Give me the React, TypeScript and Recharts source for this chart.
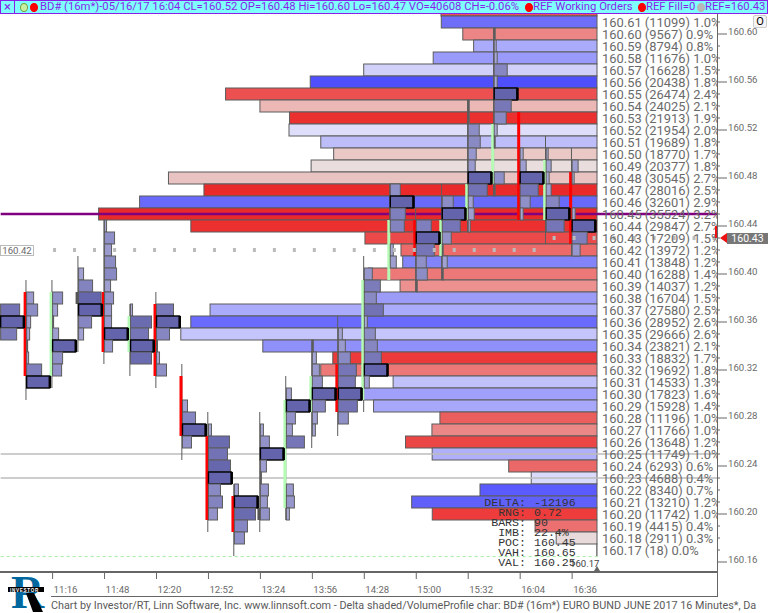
import React from "react"
import { ComposedChart, Bar, Scatter, XAxis, YAxis } from "recharts"

const FONT = "Roboto, 'Liberation Sans', Arial, sans-serif"
const MONO = "'Liberation Mono', monospace"
const TEXT_GRAY = "#6a6a6a"

// volume profile rows, top to bottom
const rowPrices = [
  160.62, 160.61, 160.6, 160.59, 160.58, 160.57, 160.56, 160.55, 160.54, 160.53, 160.52, 160.51, 160.5, 160.49, 160.48, 160.47,
  160.46, 160.45, 160.44, 160.43, 160.42, 160.41, 160.4, 160.39, 160.38, 160.37, 160.36, 160.35, 160.34, 160.33, 160.32, 160.31,
  160.3, 160.29, 160.28, 160.27, 160.26, 160.25, 160.24, 160.23, 160.22, 160.21, 160.2, 160.19, 160.18, 160.17,
]
const rowVolumes = [
  11120, 11099, 9567, 8794, 11676, 16628, 20438, 26474, 24025, 21913, 21954, 19689, 18770, 20377, 30545, 28016,
  32601, 35524, 28950, 16540, 13972, 13848, 16288, 14037, 16704, 27580, 28952, 29666, 23821, 18832, 19692, 14533,
  17823, 15928, 11196, 11766, 13648, 11749, 6293, 4688, 8340, 13210, 11742, 4415, 2911, 18,
]
const rowColors = [
  "#ee5555", "#6e6ef8", "#ec8585", "#ababfb", "#9a9afb", "#d0d0f9", "#4f4ffd", "#ec5050", "#ebb8b5", "#eb3030", "#dedefa", "#bdbdf9", "#e9c8c5", "#e9dddd", "#e9c2c2", "#ea2a2a",
  "#6a6afa", "#e82a2a", "#ec3030", "#ec4a4a", "#ec6a6a", "#8484fa", "#ec7878", "#ec9090", "#9c9cf8", "#ababfb", "#6a6afd", "#c5c5fb", "#9090fa", "#ec3a3a", "#ec7878", "#c0c0fa",
  "#a0a0fa", "#a8a8fa", "#ea5e5e", "#ea8888", "#ea4646", "#b0b0fa", "#ea6868", "#dadafa", "#5a5afd", "#6060fa", "#ee3c3c", "#ec7070", "#e8dada", "#ffffff",
]
const rowLabels = [
  "", "160.61 (11099) 1.0%", "160.60 (9567) 0.9%", "160.59 (8794) 0.8%", "160.58 (11676) 1.0%", "160.57 (16628) 1.5%", "160.56 (20438) 1.8%",
  "160.55 (26474) 2.4%", "160.54 (24025) 2.1%", "160.53 (21913) 1.9%", "160.52 (21954) 2.0%", "160.51 (19689) 1.8%", "160.50 (18770) 1.7%",
  "160.49 (20377) 1.8%", "160.48 (30545) 2.7%", "160.47 (28016) 2.5%", "160.46 (32601) 2.9%", "160.45 (35524) 3.2%", "160.44 (29847) 2.7%",
  "160.43 (17209) 1.5%", "160.42 (13972) 1.2%", "160.41 (13848) 1.2%", "160.40 (16288) 1.4%", "160.39 (14037) 1.2%", "160.38 (16704) 1.5%",
  "160.37 (27580) 2.5%", "160.36 (28952) 2.6%", "160.35 (29666) 2.6%", "160.34 (23821) 2.1%", "160.33 (18832) 1.7%", "160.32 (19692) 1.8%",
  "160.31 (14533) 1.3%", "160.30 (17823) 1.6%", "160.29 (15928) 1.4%", "160.28 (11196) 1.0%", "160.27 (11766) 1.0%", "160.26 (13648) 1.2%",
  "160.25 (11749) 1.0%", "160.24 (6293) 0.6%", "160.23 (4688) 0.4%", "160.22 (8340) 0.7%", "160.21 (13210) 1.2%", "160.20 (11742) 1.0%",
  "160.19 (4415) 0.4%", "160.18 (2911) 0.3%", "160.17 (18) 0.0%",
]

// 16 minute bars, time in minutes after midnight
const barTimes = [644, 660, 676, 692, 708, 724, 740, 756, 772, 788, 804, 820, 836, 852, 868, 884, 900, 916, 932, 948, 964, 980, 996]
const barHighs = [160.375, 160.395, 160.395, 160.415, 160.445, 160.375, 160.385, 160.325, 160.285, 160.225, 160.285, 160.315, 160.345, 160.365, 160.415, 160.475, 160.455, 160.475, 160.545, 160.605, 160.505, 160.515, 160.505]
const barLows = [160.345, 160.295, 160.305, 160.335, 160.325, 160.315, 160.305, 160.245, 160.185, 160.165, 160.185, 160.195, 160.255, 160.265, 160.285, 160.395, 160.385, 160.395, 160.435, 160.465, 160.445, 160.425, 160.415]
const bodyTops = [0, 160.385, 160.385, 160.385, 160.385, 160.365, 160.375, 160.315, 160.265, 160.215, 160.205, 160.295, 160.315, 160.325, 160.395, 160.445, 160.445, 160.445, 160.475, 160.525, 160.535, 160.495, 160.485]
const bodyBottoms = [0, 160.315, 160.315, 160.375, 160.335, 160.335, 160.315, 160.265, 160.195, 160.185, 160.195, 160.205, 160.285, 160.285, 160.295, 160.395, 160.415, 160.415, 160.445, 160.475, 160.445, 160.445, 160.425]
const bodyColors = ["", "#ff0000", "#b4fbb4", "#555555", "#ff0000", "#b4fbb4", "#ff0000", "#ff0000", "#ff0000", "#ff0000", "#555555", "#b4fbb4", "#b4fbb4", "#ff0000", "#b4fbb4", "#b4fbb4", "#ff0000", "#b4fbb4", "#b4fbb4", "#b4fbb4", "#ff0000", "#b4fbb4", "#ff0000"]

// per-bar volume at price, first entry sits at the bar's top price
const barTopPrices = [160.37, 160.38, 160.38, 160.4, 160.44, 160.37, 160.37, 160.29, 160.27, 160.22, 160.27, 160.3, 160.34, 160.35, 160.4, 160.47, 160.44, 160.46, 160.54, 160.6, 160.5, 160.5, 160.49]
const barVolumes = [
  [1900, 2300, 1600],
  [700, 1100, 400, 300, 100, 200, 1500, 2300],
  [1000, 500, 100, 600, 2300, 1000, 900],
  [500, 1400, 2250, 2300, 1300, 500],
  [200, 1000, 700, 1100, 1200, 600, 900, 700, 700, 2300, 800],
  [200, 2100, 1800, 2300, 2100],
  [1700, 2300, 1300, 100, 300, 1000],
  [500, 1300, 2300, 900],
  [300, 2100, 1900, 2200, 2300, 1200, 1400, 900],
  [400, 2300, 2100, 1300, 1000],
  [300, 900, 2300, 600, 100, 800, 700, 900],
  [500, 2300, 900, 600, 1800, 0, 0, 0, 700, 800, 300],
  [100, 400, 700, 1000, 2300, 1300, 500, 300],
  [400, 700, 1200, 1800, 1700, 2300, 1900, 1000],
  [800, 1600, 1200, 1900, 300, 1100, 1300, 1700, 2300, 500],
  [1000, 2300, 1500, 1400, 0, 300, 600],
  [1500, 2300, 1800, 1000, 1100, 100],
  [1100, 2300, 1800, 900, 100, 500, 100],
  [100, 100, 1100, 1200, 800, 700, 2300, 1900, 500, 600, 200],
  [100, 200, 300, 1300, 300, 2300, 1700, 1200, 300, 100, 0, 0, 1000, 100],
  [300, 600, 2300, 1800, 1000, 300],
  [200, 500, 300, 500, 1300, 2300, 1800],
  [600, 200, 0, 0, 300, 2300, 1500, 800],
]

// REF order markers
const refDotTimes = [677.2, 689.5, 701.8, 714.2, 726.5, 738.8, 751.1, 763.4, 775.7, 788.0, 800.3, 812.6, 824.9, 837.2, 849.5, 861.8, 874.2, 886.5, 898.8, 911.1, 923.4, 935.7, 948.0, 960.3, 972.6]
const refDotTimes2 = [984.9, 997.2, 1009.5, 1021.8, 1034.2, 1046.5, 1058.8, 1071.1, 1083.4]

const axisTimes = [676, 708, 740, 772, 804, 836, 868, 900, 932, 964, 996]
const majorPrices = [160.6, 160.56, 160.52, 160.48, 160.44, 160.4, 160.36, 160.32, 160.28, 160.24, 160.2, 160.16]
const statNames = ["DELTA:", "RNG:", "BARS:", "IMB:", "POC:", "VAH:", "VAL:"]
const statValues = ["-12196", "0.72", "90", "22.4%", "160.45", "160.65", "160.25"]

// the plot runs on under the price labels, the profile hangs from 16:52
const TIME_DOMAIN = [644, 1085.23]
const PROFILE_RIGHT = 1011.38
const VOLUME_DOMAIN = [-8553, 42552]
const PRICE_DOMAIN = [160.1525, 160.62]
const PX_PER_LOT = 0.01

const profileRows = rowPrices.map((price, i) => ({ price, volume: rowVolumes[i], color: rowColors[i] }))
const cellRows = barTimes.flatMap((time, b) =>
  barVolumes[b]
    .map((volume, i) => ({ time, price: barTopPrices[b] - i * 0.01, volume, poc: volume === Math.max(...barVolumes[b]) }))
    .filter((c) => c.volume > 0),
)

function cellColor(volume: number) {
  const k = Math.min(volume / 2300, 1)
  const mix = (a: number, b: number) => Math.round(a + (b - a) * k)
  return `rgb(${mix(178, 100)},${mix(178, 100)},${mix(222, 172)})`
}

const ProfileBar = (props: any) => {
  const { x, y, width, height, payload } = props
  const left = Math.min(x, x + width)
  return <rect x={left} y={y + height / 2 - 6} width={Math.abs(width)} height={12} fill={payload.color} stroke="#5c5c5c" strokeWidth={1} />
}

const VolumeCell = (props: any) => {
  const { cx, cy, payload } = props
  const w = payload.volume * PX_PER_LOT
  if (payload.poc) {
    return (
      <g>
        <rect x={cx} y={cy - 6} width={w} height={12} fill="#6464ac" stroke="#000" strokeWidth={1.4} />
        <rect x={cx + w - 1} y={cy - 6} width={2.5} height={12} fill="#000" />
      </g>
    )
  }
  return <rect x={cx} y={cy - 6} width={w} height={12} fill={cellColor(payload.volume)} stroke="#5c5c5c" strokeWidth={1} />
}

const RefDot = (props: any) => <rect x={props.cx - 1.5} y={props.cy - 2} width={3} height={4} fill="#bbbbbb" />
const NoDot = () => <g />

// one tick draws the profile row text and the price scale beside it
const PriceTick = (props: any) => {
  const { y, payload } = props
  const major = majorPrices.includes(payload.value)
  const label = rowLabels[rowPrices.indexOf(payload.value)]
  return (
    <g>
      {label && (
        <text x={602} y={y + 4.5} fontSize={12.9} fontFamily={FONT} fill={TEXT_GRAY} clipPath="url(#rowClip)">
          {label}
        </text>
      )}
      <line x1={717} x2={major ? 727 : 720} y1={y} y2={y} stroke="#666" />
      {major && (
        <text x={728} y={y + 1} fontSize={9.6} fontFamily={FONT} fill={TEXT_GRAY}>
          {payload.value.toFixed(2)}
        </text>
      )}
    </g>
  )
}

const TimeTick = (props: any) => {
  const { x, payload } = props
  const h = Math.floor(payload.value / 60)
  const m = payload.value % 60
  return (
    <g>
      <line x1={x} x2={x} y1={572} y2={579} stroke="#666" />
      <text x={x + 1} y={593} fontSize={9.6} fontFamily={FONT} fill={TEXT_GRAY}>
        {`${h}:${String(m).padStart(2, "0")}`}
      </text>
    </g>
  )
}

const HeaderText = ({ x, children }: { x: number; children: React.ReactNode }) => (
  <span style={{ position: "absolute", left: x, top: -1, fontSize: 11.25, lineHeight: "14px", color: "#8a1fe8", whiteSpace: "nowrap" }}>{children}</span>
)

const Dot = ({ x, color, border }: { x: number; color: string; border?: string }) => (
  <span style={{ position: "absolute", left: x, top: 2, width: 6, height: 7, borderRadius: "50%", background: color, border: border ? `1px solid ${border}` : "1px solid " + color }} />
)

const Logo = () => (
  <svg width={46} height={42} style={{ position: "absolute", left: 6, top: 571 }}>
    <text x={5} y={37} fontSize={46} fontWeight="bold" fontFamily="'Liberation Serif', serif" fill="#00689f">R</text>
    <polygon points="20,22 28,22 37,41 27,41" fill="#000" />
    <rect x={2} y={16} width={36} height={5} fill="#000" />
    <text x={4} y={20.5} fontSize={4.6} fontWeight="bold" fontFamily="'Liberation Sans', sans-serif" fill="#fff" letterSpacing={0.7}>INVESTOR</text>
  </svg>
)

export default function App() {
  return (
    <div style={{ position: "absolute", left: 0, top: 0, width: 768, height: 613, background: "#fff", overflow: "hidden", fontFamily: FONT }}>
      <ComposedChart width={768} height={613} layout="vertical" data={profileRows} margin={{ top: 10, right: 0, bottom: 0, left: 0 }}>
        <defs>
          <clipPath id="rowClip">
            <rect x={597} y={0} width={120} height={613} />
          </clipPath>
        </defs>
        <XAxis xAxisId="time" type="number" dataKey="time" domain={TIME_DOMAIN} ticks={axisTimes} interval={0} height={42} tickSize={0} tickMargin={0} axisLine={false} tickLine={false} tick={TimeTick} />
        <XAxis xAxisId="vol" type="number" hide reversed domain={VOLUME_DOMAIN} />
        <YAxis yAxisId="rows" orientation="right" reversed type="number" dataKey="price" domain={PRICE_DOMAIN} ticks={[...rowPrices.slice(1), 160.16]} interval={0} width={51} tickSize={0} tickMargin={0} axisLine={false} tickLine={false} tick={PriceTick} />

        <Bar xAxisId="vol" yAxisId="rows" dataKey="volume" shape={ProfileBar} isAnimationActive={false} />

        <Scatter xAxisId="time" yAxisId="rows" isAnimationActive={false} data={[{ time: 644, price: 160.45 }, { time: TIME_DOMAIN[1], price: 160.45 }]} shape={NoDot} line={{ stroke: "#800080", strokeWidth: 2.5 }} />
        <Scatter xAxisId="time" yAxisId="rows" isAnimationActive={false} data={[{ time: 644, price: 160.25 }, { time: TIME_DOMAIN[1], price: 160.25 }]} shape={NoDot} line={{ stroke: "#bdbdbd", strokeWidth: 1.5 }} />
        <Scatter xAxisId="time" yAxisId="rows" isAnimationActive={false} data={[{ time: 644, price: 160.23 }, { time: TIME_DOMAIN[1], price: 160.23 }]} shape={NoDot} line={{ stroke: "#bdbdbd", strokeWidth: 1.5 }} />
        <Scatter xAxisId="time" yAxisId="rows" isAnimationActive={false} data={[{ time: 644, price: 160.1645 }, { time: PROFILE_RIGHT, price: 160.1645 }]} shape={NoDot} line={{ stroke: "#a0eca0", strokeWidth: 1, strokeDasharray: "3 3" }} />

        {barTimes.map((t, i) => (
          <Scatter key={`wick-${t}`} xAxisId="time" yAxisId="rows" isAnimationActive={false} data={[{ time: t - 0.4, price: barHighs[i] }, { time: t - 0.4, price: barLows[i] }]} shape={NoDot} line={{ stroke: "#5c5c5c", strokeWidth: 1 }} />
        ))}
        {barTimes.map((t, i) =>
          bodyColors[i] ? (
            <Scatter key={`body-${t}`} xAxisId="time" yAxisId="rows" isAnimationActive={false} data={[{ time: t - 0.92, price: bodyTops[i] }, { time: t - 0.92, price: bodyBottoms[i] }]} shape={NoDot} line={{ stroke: bodyColors[i], strokeWidth: 3 }} />
          ) : null,
        )}
        <Scatter xAxisId="time" yAxisId="rows" isAnimationActive={false} data={cellRows} shape={VolumeCell} />
        <Scatter xAxisId="time" yAxisId="rows" isAnimationActive={false} data={refDotTimes.map((time) => ({ time, price: 160.42 }))} shape={RefDot} />
        <Scatter xAxisId="time" yAxisId="rows" isAnimationActive={false} data={refDotTimes2.map((time) => ({ time, price: 160.43 }))} shape={RefDot} />
      </ComposedChart>

      {/* title strip */}
      <div style={{ position: "absolute", left: 0, top: 0, width: 766, height: 12, background: "#80ffff", border: "1px solid #8a1fe8" }}>
        <span style={{ position: "absolute", left: 13, top: 0, width: 1, height: 12, background: "#8a1fe8" }} />
        <span style={{ position: "absolute", left: 3, top: -2, fontSize: 13, color: "#8a1fe8" }}>×</span>
        <Dot x={19} color="#c8f0a0" border="#70a040" />
        <Dot x={29} color="#ff0000" />
        <HeaderText x={39}>BD# (16m*)-05/16/17 16:04 CL=160.52 OP=160.48 Hi=160.60 Lo=160.47 VO=40608 CH=-0.06%</HeaderText>
        <Dot x={524} color="#ff0000" />
        <HeaderText x={532}>REF Working Orders</HeaderText>
        <Dot x={637} color="#ff0000" />
        <HeaderText x={645}>REF Fill=0</HeaderText>
        <Dot x={696} color="#b8b8b8" />
        <HeaderText x={704}>REF=160.43</HeaderText>
      </div>

      {/* frame */}
      <div style={{ position: "absolute", left: 0, top: 571, width: 717, height: 2, background: "#666" }} />
      <div style={{ position: "absolute", left: 51, top: 596, width: 667, height: 1, background: "#666" }} />
      <div style={{ position: "absolute", left: 717, top: 14, width: 1, height: 583, background: "#666" }} />
      <div style={{ position: "absolute", left: 51, top: 598, fontSize: 10.8, lineHeight: "16px", color: "#5a5a5a", whiteSpace: "nowrap" }}>
        Chart by Investor/RT, Linn Software, Inc. www.linnsoft.com - Delta shaded/VolumeProfile char: BD# (16m*) EURO BUND JUNE 2017 16 Minutes*, Da
      </div>
      <Logo />

      {/* stats box */}
      {statNames.map((name, i) => (
        <React.Fragment key={name}>
          <span style={{ position: "absolute", right: 768 - 526, top: 497 + i * 10, fontFamily: MONO, fontSize: 11.6, lineHeight: "12px", color: "#333", whiteSpace: "nowrap" }}>{name}</span>
          <span style={{ position: "absolute", left: 534, top: 497 + i * 10, fontFamily: MONO, fontSize: 11.6, lineHeight: "12px", color: "#333", whiteSpace: "nowrap" }}>{statValues[i]}</span>
        </React.Fragment>
      ))}

      {/* small labels */}
      <div style={{ position: "absolute", left: 0, top: 245, width: 32, height: 9, border: "1px solid #bbb", background: "#fff", fontSize: 9.6, lineHeight: "10px", color: TEXT_GRAY, textAlign: "center" }}>160.42</div>
      <div style={{ position: "absolute", left: 570, top: 558, fontSize: 9.6, color: "#444" }}>160.17</div>
      <div style={{ position: "absolute", left: 727, top: 233, width: 41, height: 11, background: "#777", color: "#fff", fontSize: 10.5, lineHeight: "11px", textAlign: "center" }}>160.43</div>
      <div style={{ position: "absolute", left: 720, top: 233, width: 0, height: 0, borderTop: "5px solid transparent", borderBottom: "5px solid transparent", borderRight: "7px solid #ee1111" }} />
      <div style={{ position: "absolute", left: 715, top: 226, width: 2, height: 12, background: "#ee1111" }} />
      <div style={{ position: "absolute", left: 594, top: 566, width: 0, height: 0, borderLeft: "3px solid transparent", borderRight: "3px solid transparent", borderBottom: "5px solid #666" }} />
      <div style={{ position: "absolute", left: 753, top: 15, width: 12, height: 11, border: "1px solid #ccc", borderRadius: 2, background: "#f4f4f4", fontSize: 11, lineHeight: "11px", textAlign: "center", color: "#000" }}>O</div>
    </div>
  )
}
